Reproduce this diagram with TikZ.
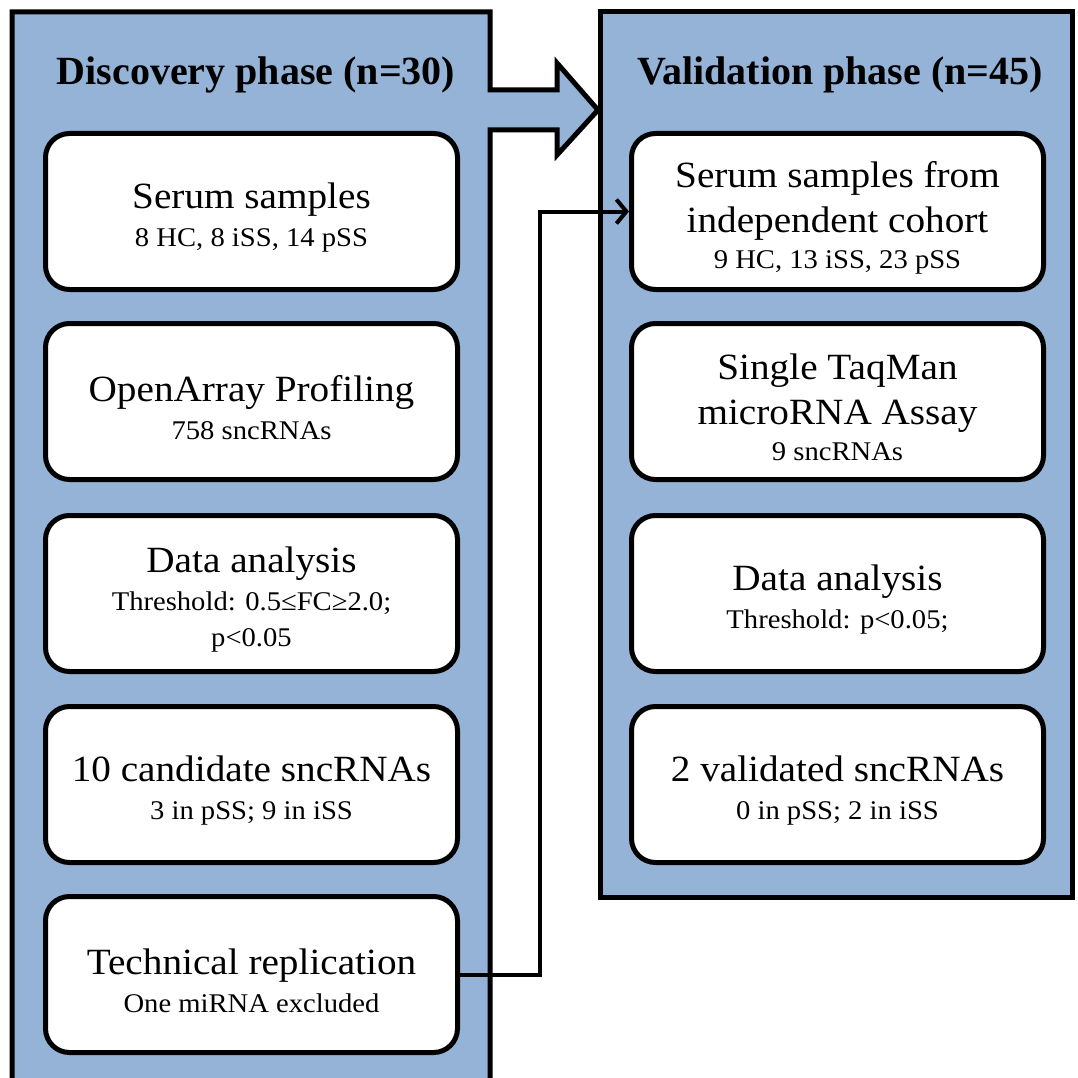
\documentclass[tikz,border=0pt]{standalone}
\usepackage{fontspec}
\setmainfont{Liberation Serif}[FakeStretch=1.06]
\newfontfamily\titlefont{Liberation Serif}
\usetikzlibrary{arrows.meta}
\definecolor{panelblue}{RGB}{149,179,215}
\newcommand\mainsz{\fontsize{37}{45}\selectfont}
\newcommand\subln[1]{{\fontsize{27}{45}\selectfont #1}}
\newcommand\ft{\rule{0pt}{38pt}}
\tikzset{
  panel/.style={fill=panelblue, draw=black, line width=5pt, line join=miter},
  stage/.style={draw=black, fill=white, line width=5pt, rounded corners=24pt,
    minimum width=412pt, minimum height=156pt, align=center, inner sep=0pt,
    font=\mainsz},
  title/.style={anchor=base, inner sep=0pt, font=\titlefont\bfseries\fontsize{40}{44}\selectfont},
  link/.style={draw=black, line width=4pt, -{Straight Barb[length=10pt,width=24pt]}}
}
\begin{document}
\begin{tikzpicture}[x=1pt,y=-1pt]
\clip (0,0) rectangle (1078,1078);
\fill[white] (0,0) rectangle (1078,1078);
% left panel with block arrow
\draw[panel] (12,1100) -- (12,12) -- (490,12) -- (490,90) -- (557,90) -- (557,63)
  -- (598,110) -- (557,155) -- (557,130) -- (490,130) -- (490,1100);
% right panel
\draw[panel] (600,12) rectangle (1072,897);
\node[title] (tl) at (256,85) {Discovery phase (n=30)};
\node[title] (tr) at (840,85) {Validation phase (n=45)};
% left stages
\node[stage] (L1) at (251.5,211.5) {\ft Serum samples\\[-7pt]\subln{8 HC, 8 iSS, 14 pSS}};
\node[stage] (L2) at (251.5,401.5) {\ft OpenArray Profiling\\[-7pt]\subln{758 sncRNAs}};
\node[stage] (L3) at (251.5,593.5) {\ft Data analysis\\[-7pt]\subln{Threshold: 0.5≤FC≥2.0;}\\[-9pt]\subln{p<0.05}};
\node[stage] (L4) at (251.5,784.5) {\ft 10 candidate sncRNAs\\[-7pt]\subln{3 in pSS; 9 in iSS}};
\node[stage] (L5) at (251.5,974.5) {\ft Technical replication\\[-7pt]\subln{One miRNA excluded}};
% right stages
\node[stage] (R1) at (837.5,211.5) {\ft Serum samples from\\independent cohort\\[-9pt]\subln{9 HC, 13 iSS, 23 pSS}};
\node[stage] (R2) at (837.5,401.5) {\ft Single TaqMan\\microRNA Assay\\[-9pt]\subln{9 sncRNAs}};
\node[stage] (R3) at (837.5,593.5) {\ft Data analysis\\[-7pt]\subln{Threshold: p<0.05;}};
\node[stage] (R4) at (837.5,784.5) {\ft 2 validated sncRNAs\\[-7pt]\subln{0 in pSS; 2 in iSS}};
% connector
\draw[link] (L5.east) -- ++(80,0) |- (R1.west);
\end{tikzpicture}
\end{document}
